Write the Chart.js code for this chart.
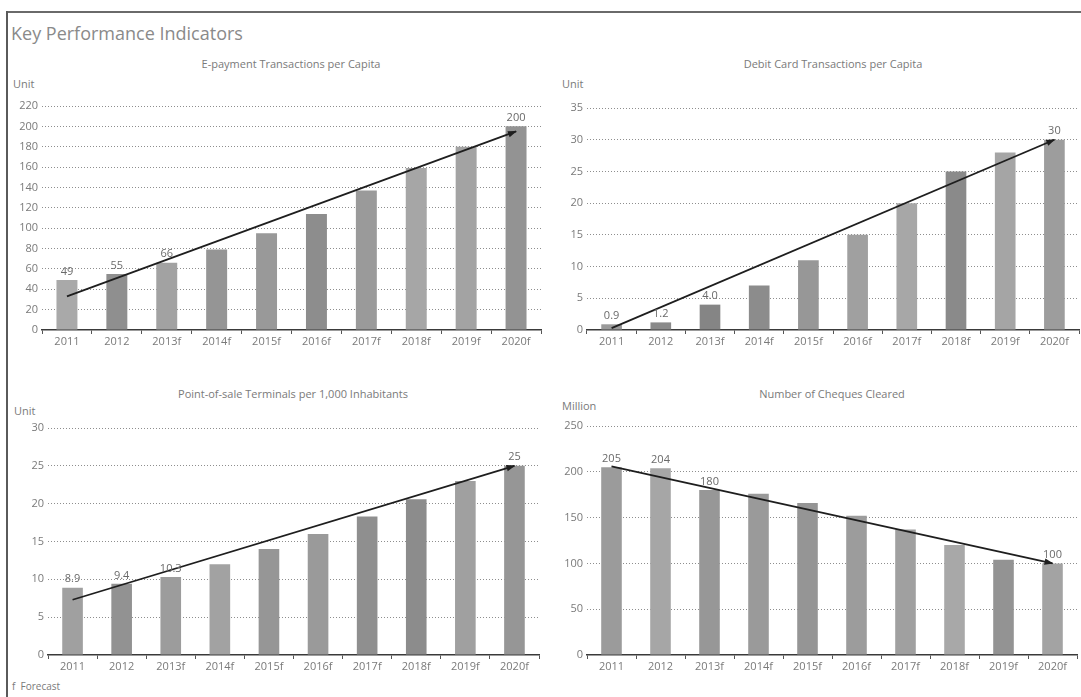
<!DOCTYPE html>
<html>
<head>
<meta charset="utf-8">
<script src="https://cdn.jsdelivr.net/npm/chart.js@4.4.1/dist/chart.umd.min.js"></script>
<style>
  html, body { margin: 0; padding: 0; background: #fff; }
  body { width: 1081px; height: 697px; position: relative; overflow: hidden; font-family: "Open Sans", sans-serif; color: #808080; }
  .frame-top { position: absolute; left: 6px; top: 11px; width: 1075px; height: 0; border-top: 2px solid #6a6a6a; }
  .frame-left { position: absolute; left: 6px; top: 11px; width: 0; height: 686px; border-left: 2px solid #5a5a5a; }
  .txt { position: absolute; white-space: nowrap; line-height: 16px; }
  #kpi { left: 11px; top: 22px; font-size: 18px; line-height: 22px; color: #8a8a8a; }
  .sub { font-size: 11px; color: #7a7a7a; transform: translateX(-50%); }
  .unit { font-size: 11px; color: #7a7a7a; }
  .note { font-size: 10px; color: #7a7a7a; }
  canvas { position: absolute; }
</style>
</head>
<body>
<div class="frame-top"></div>
<div class="frame-left"></div>
<div class="txt" id="kpi">Key Performance Indicators</div>

<div class="txt sub" style="left:291px; top:56px;">E-payment Transactions per Capita</div>
<div class="txt sub" style="left:833px; top:56px;">Debit Card Transactions per Capita</div>
<div class="txt sub" style="left:293px; top:386px;">Point-of-sale Terminals per 1,000 Inhabitants</div>
<div class="txt sub" style="left:832px; top:386px;">Number of Cheques Cleared</div>

<div class="txt unit" style="left:13px; top:76px;">Unit</div>
<div class="txt unit" style="left:562px; top:76px;">Unit</div>
<div class="txt unit" style="left:14px; top:403px;">Unit</div>
<div class="txt unit" style="left:562px; top:398px;">Million</div>

<div class="txt note" style="left:12px; top:678px;">f&nbsp;&nbsp;Forecast</div>

<canvas id="cEpay" width="545" height="265" style="left:0px; top:90px;"></canvas>
<canvas id="cDebit" width="536" height="265" style="left:545px; top:90px;"></canvas>
<canvas id="cPos" width="545" height="265" style="left:0px; top:415px;"></canvas>
<canvas id="cCheque" width="536" height="265" style="left:545px; top:415px;"></canvas>

<script>
// Years on the category axis ("f" = forecast)
const years = ['2011', '2012', '2013f', '2014f', '2015f', '2016f', '2017f', '2018f', '2019f', '2020f'];

// E-payment transactions per capita (unit)
const epayValues = [49, 55, 66, 79, 95, 114, 137, 159, 180, 200];
const epayTrend = [33, 195];
const epayLabelled = [0, 1, 2, 9];

// Debit card transactions per capita (unit)
const debitValues = [0.9, 1.2, 4.0, 7, 11, 15, 20, 25, 28, 30];
const debitTrend = [0.3, 30];
const debitLabelled = [0, 1, 2, 9];

// Point-of-sale terminals per 1,000 inhabitants (unit)
const posValues = [8.9, 9.4, 10.3, 12, 14, 16, 18.3, 20.6, 23, 25];
const posTrend = [7.3, 25];
const posLabelled = [0, 1, 2, 9];

// Number of cheques cleared (million)
const chequeValues = [205, 204, 180, 176, 166, 152, 137, 120, 104, 100];
const chequeTrend = [206, 100];
const chequeLabelled = [0, 1, 2, 9];

// Value axis ranges
const epayAxis = { max: 220, step: 20 };
const debitAxis = { max: 35, step: 5 };
const posAxis = { max: 30, step: 5 };
const chequeAxis = { max: 250, step: 50 };

// Bar shades
const shadesA = ['#a9a9a9', '#8f8f8f', '#a2a2a2', '#959595', '#999999', '#8d8d8d', '#9a9a9a', '#a6a6a6', '#a3a3a3', '#939393'];
const shadesB = ['#9a9a9a', '#8a8a8a', '#858585', '#8c8c8c', '#979797', '#a0a0a0', '#a7a7a7', '#8a8a8a', '#a5a5a5', '#9d9d9d'];
const shadesC = ['#a0a0a0', '#929292', '#9c9c9c', '#a2a2a2', '#969696', '#9a9a9a', '#8f8f8f', '#8c8c8c', '#a0a0a0', '#969696'];
const shadesD = ['#9b9b9b', '#a6a6a6', '#979797', '#9a9a9a', '#959595', '#9c9c9c', '#a0a0a0', '#a8a8a8', '#939393', '#a3a3a3'];

const TEXT = '#7a7a7a';
const FONT = { family: '"Open Sans", sans-serif', size: 11 };

// Values below 20 carry one decimal in the small-unit charts
function fmt(v, oneDecimal) {
  if (oneDecimal && v < 20) return v.toFixed(1);
  return String(Math.round(v));
}

// Value labels above selected bars
const valueLabels = {
  id: 'valueLabels',
  afterDatasetsDraw(chart, args, opts) {
    const ctx = chart.ctx;
    const meta = chart.getDatasetMeta(0);
    const data = chart.data.datasets[0].data;
    ctx.save();
    ctx.font = '11px "Open Sans", sans-serif';
    ctx.fillStyle = '#6a6a6a';
    ctx.textAlign = 'center';
    ctx.textBaseline = 'bottom';
    opts.indices.forEach(i => {
      const el = meta.data[i];
      ctx.fillText(fmt(data[i], opts.oneDecimal), el.x, el.y - 3);
    });
    ctx.restore();
  }
};

// Arrowhead at the end of the trend line
const trendArrow = {
  id: 'trendArrow',
  afterDatasetsDraw(chart) {
    const ds = chart.data.datasets[1];
    const meta = chart.getDatasetMeta(1);
    const pts = meta.data.filter((p, i) => ds.data[i] !== null);
    const a = pts[0], b = pts[pts.length - 1];
    const ang = Math.atan2(b.y - a.y, b.x - a.x);
    const L = 8, W = 3.2;
    const c = Math.cos(ang), s = Math.sin(ang);
    const ctx = chart.ctx;
    ctx.save();
    ctx.fillStyle = '#1e1e1e';
    ctx.beginPath();
    ctx.moveTo(b.x + c, b.y + s);
    ctx.lineTo(b.x - L * c + W * s, b.y - L * s - W * c);
    ctx.lineTo(b.x - L * c - W * s, b.y - L * s + W * c);
    ctx.closePath();
    ctx.fill();
    ctx.restore();
  }
};

function buildChart(id, values, trend, axis, shades, labelled, oneDecimal, box) {
  const trendData = years.map((_, i) => i === 0 ? trend[0] : (i === years.length - 1 ? trend[1] : null));
  return new Chart(document.getElementById(id), {
    type: 'bar',
    data: {
      labels: years,
      datasets: [
        {
          data: values,
          backgroundColor: shades,
          borderWidth: 0,
          categoryPercentage: 1,
          barPercentage: 0.42,
          order: 1
        },
        {
          type: 'line',
          data: trendData,
          spanGaps: true,
          borderColor: '#1e1e1e',
          borderWidth: 1.8,
          pointRadius: 0,
          fill: false,
          order: 0
        }
      ]
    },
    options: {
      responsive: false,
      animation: false,
      devicePixelRatio: 1,
      layout: { padding: { top: box.top, right: box.right, bottom: 0, left: 0 } },
      plugins: {
        legend: { display: false },
        tooltip: { enabled: false },
        title: { display: false },
        valueLabels: { indices: labelled, oneDecimal: oneDecimal }
      },
      scales: {
        x: {
          grid: { display: true, drawOnChartArea: false, drawTicks: true, tickLength: 4, color: '#555', offset: true },
          border: { display: true, color: '#3a3a3a', width: 1.5 },
          ticks: { color: TEXT, font: FONT, padding: 1, maxRotation: 0, autoSkip: false },
          afterFit(s) { s.height = 25; }
        },
        y: {
          min: 0,
          max: axis.max,
          ticks: { stepSize: axis.step, color: TEXT, font: FONT, padding: 4 },
          grid: {
            drawTicks: false,
            lineWidth: 1,
            color: ctx => ctx.tick && ctx.tick.value === 0 ? 'rgba(0,0,0,0)' : '#8e8e8e'
          },
          border: { display: false, dash: [1, 2] },
          afterFit(s) { s.width = box.yWidth; }
        }
      }
    },
    plugins: [valueLabels, trendArrow]
  });
}

buildChart('cEpay', epayValues, epayTrend, epayAxis, shadesA, epayLabelled, false, { top: 16, right: 4, yWidth: 42 });
buildChart('cDebit', debitValues, debitTrend, debitAxis, shadesB, debitLabelled, true, { top: 18, right: 2, yWidth: 42 });
buildChart('cPos', posValues, posTrend, posAxis, shadesC, posLabelled, true, { top: 13, right: 6, yWidth: 48 });
buildChart('cCheque', chequeValues, chequeTrend, chequeAxis, shadesD, chequeLabelled, false, { top: 11, right: 4, yWidth: 42 });
</script>
</body>
</html>
